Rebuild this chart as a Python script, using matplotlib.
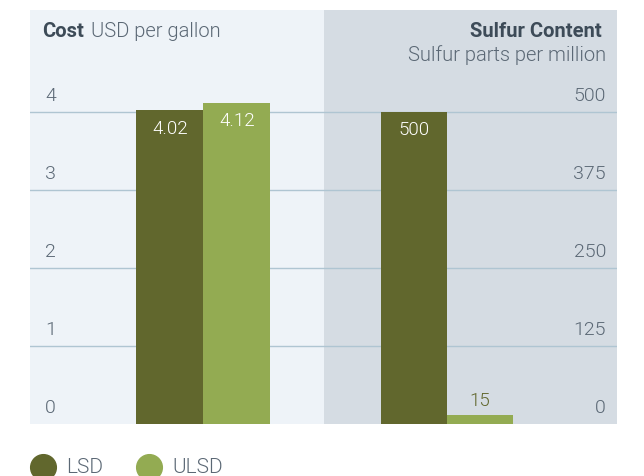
import matplotlib
matplotlib.use("Agg")
import matplotlib.pyplot as plt
import matplotlib.transforms as mtransforms
from matplotlib.lines import Line2D

plt.rcParams['font.family'] = ['Roboto', 'DejaVu Sans']

series = ["LSD", "ULSD"]
cost_values = [4.02, 4.12]
sulfur_values = [500, 15]
cost_ticks = [0, 1, 2, 3, 4]
sulfur_ticks = [0, 125, 250, 375, 500]

c_lsd = "#61672d"
c_ulsd = "#93ab52"
bg_left = "#eef3f8"
bg_right = "#d5dce3"
grid_c = "#afc5d2"
text_c = "#5b6875"
title_c = "#3d4b58"

W, H = 644, 477
fig = plt.figure(figsize=(W / 100, H / 100), dpi=100)

def fr(x0, x1, ytop, ybot):
    return [x0 / W, 1 - ybot / H, (x1 - x0) / W, (ybot - ytop) / H]

ax1 = fig.add_axes(fr(30, 324, 11, 425))
ax2 = fig.add_axes(fr(324, 617, 11, 425))

LW = 300  # light weight
TICK_FS = 14
BAR_FS = 13.5
TITLE_FS = 14.5

# left panel: cost
ax1.set_facecolor(bg_left)
px_per_unit = 312 / 4
ax1.set_ylim(0, 414 / px_per_unit)
ax1.set_xlim(-173.5 / 67, (294 - 173.5) / 67)
for t in cost_ticks[1:]:
    ax1.axhline(t, color=grid_c, lw=1, zorder=1)
ax1.bar([-0.5, 0.5], cost_values, width=1.0, color=[c_lsd, c_ulsd], zorder=2)
for x, v in zip([-0.5, 0.5], cost_values):
    ax1.annotate(f"{v:.2f}", (x, v), xytext=(0, -6), textcoords="offset points",
                 ha="center", va="top", color="white", fontsize=BAR_FS,
                 fontweight=LW, zorder=3)
tr1 = mtransforms.blended_transform_factory(ax1.transAxes, ax1.transData)
for t in cost_ticks:
    ax1.annotate(str(t), (15 / 294, t), xycoords=tr1, xytext=(0, 6),
                 textcoords="offset points", ha="left", va="bottom",
                 color=text_c, fontsize=TICK_FS, fontweight=LW)
ax1.text(12 / 294, 1 - 11 / 414, "Cost", transform=ax1.transAxes, ha="left", va="top",
         fontsize=TITLE_FS, fontweight="bold", color=title_c)
ax1.text(61 / 294, 1 - 11 / 414, "USD per gallon", transform=ax1.transAxes, ha="left",
         va="top", fontsize=TITLE_FS, fontweight=LW, color=text_c)

# right panel: sulfur
ax2.set_facecolor(bg_right)
ppm_per_px = 500 / 312
ax2.set_ylim(0, 414 * ppm_per_px)
ax2.set_xlim(-123 / 66, (293 - 123) / 66)
for t in sulfur_ticks[1:]:
    ax2.axhline(t, color=grid_c, lw=1, zorder=1)
ax2.bar([-0.5, 0.5], sulfur_values, width=1.0, color=[c_lsd, c_ulsd], zorder=2)
ax2.annotate(f"{sulfur_values[0]}", (-0.5, sulfur_values[0]), xytext=(0, -6),
             textcoords="offset points", ha="center", va="top", color="white",
             fontsize=BAR_FS, fontweight=LW, zorder=3)
ax2.annotate(f"{sulfur_values[1]}", (0.5, sulfur_values[1]), xytext=(0, 4),
             textcoords="offset points", ha="center", va="bottom", color=c_lsd,
             fontsize=BAR_FS, fontweight=LW, zorder=3)
tr2 = mtransforms.blended_transform_factory(ax2.transAxes, ax2.transData)
for t in sulfur_ticks:
    ax2.annotate(str(t), (282 / 293, t), xycoords=tr2, xytext=(0, 6),
                 textcoords="offset points", ha="right", va="bottom",
                 color=text_c, fontsize=TICK_FS, fontweight=LW)
ax2.text(278 / 293, 1 - 11 / 414, "Sulfur Content", transform=ax2.transAxes, ha="right",
         va="top", fontsize=TITLE_FS, fontweight="bold", color=title_c)
ax2.text(282 / 293, 1 - 34 / 414, "Sulfur parts per million", transform=ax2.transAxes,
         ha="right", va="top", fontsize=TITLE_FS, fontweight=LW, color=text_c)

for ax in (ax1, ax2):
    ax.set_xticks([])
    ax.set_yticks([])
    for s in ax.spines.values():
        s.set_visible(False)

# legend (drawn manually for precise placement)
leg_x = [42.5, 148.5]
for name, c, x in zip(series, [c_lsd, c_ulsd], leg_x):
    fig.add_artist(Line2D([x / W], [1 - 468 / H], transform=fig.transFigure,
                          marker="o", markersize=18.5, linestyle="none",
                          markerfacecolor=c, markeredgecolor=c))
    fig.text((x + 23.5) / W, 1 - 473.5 / H, name, ha="left", va="baseline",
             fontsize=15, fontweight=LW, color=text_c)

fig.savefig("out.png", dpi=100)
